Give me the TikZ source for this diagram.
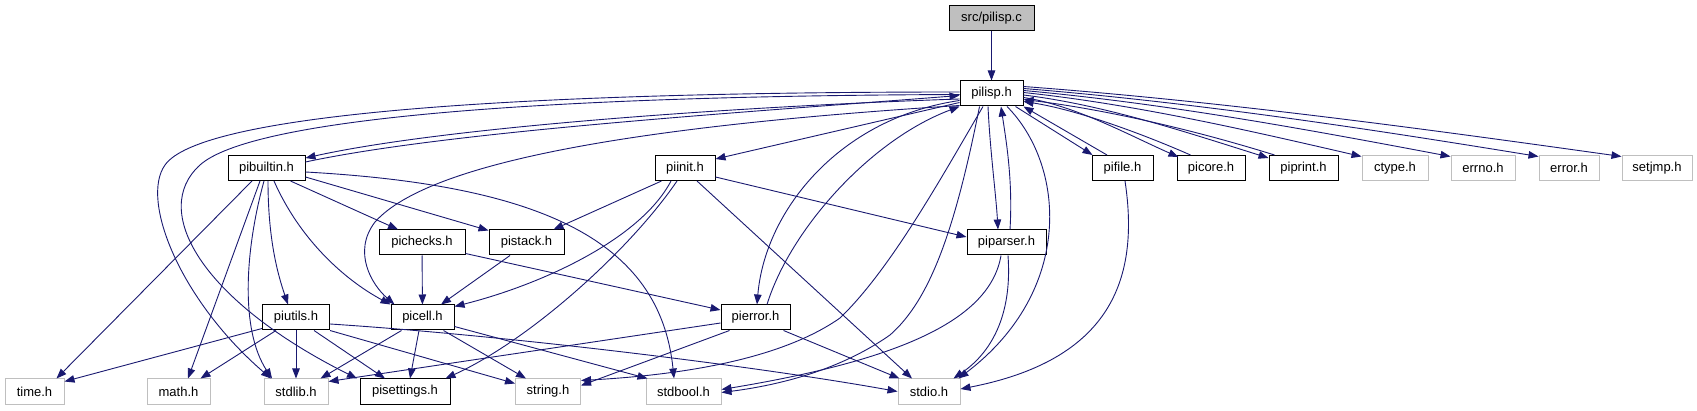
\documentclass[tikz,border=0pt]{standalone}
\usepackage{fontspec}
\setmainfont{Liberation Sans}
\usetikzlibrary{arrows.meta}
\definecolor{edgec}{HTML}{191970}
\definecolor{sysgray}{HTML}{BFBFBF}
\newcommand\dgfont{\fontsize{13}{15}\selectfont}
\tikzset{
  hdr/.style={draw=black, line width=1pt, fill=white, minimum height=25pt, inner sep=0pt, font=\dgfont},
  sys/.style={draw=sysgray, line width=1pt, fill=white, minimum height=25pt, inner sep=0pt, font=\dgfont},
  root/.style={hdr, fill=sysgray},
  e/.style={draw=edgec, line width=0.9pt, -{Triangle[length=10pt,width=7.5pt]}},
}
\begin{document}
\begin{tikzpicture}[x=1pt,y=-1pt]
\useasboundingbox (0,0) rectangle (1697,411);
% nodes
\node[root, minimum width=85pt] (src) at (991.5,18.5) {src/pilisp.c};
\node[hdr, minimum width=63pt] (pilisph) at (991.5,93.5) {pilisp.h};
\node[hdr, minimum width=77pt] (pibuiltin) at (266.5,168) {pibuiltin.h};
\node[hdr, minimum width=60pt] (piinit) at (685,168) {piinit.h};
\node[hdr, minimum width=61pt] (pifile) at (1122.5,168) {pifile.h};
\node[hdr, minimum width=68pt] (picore) at (1211,168) {picore.h};
\node[hdr, minimum width=69pt] (piprint) at (1303.5,168) {piprint.h};
\node[sys, minimum width=66pt] (ctype) at (1395,168) {ctype.h};
\node[sys, minimum width=64pt] (errno) at (1483,168) {errno.h};
\node[sys, minimum width=60pt] (error) at (1569,168) {error.h};
\node[sys, minimum width=70pt] (setjmp) at (1657,168) {setjmp.h};
\node[hdr, minimum width=86pt] (pichecks) at (422,242.5) {pichecks.h};
\node[hdr, minimum width=75pt] (pistack) at (526.5,242.5) {pistack.h};
\node[hdr, minimum width=79pt] (piparser) at (1006.5,242.5) {piparser.h};
\node[hdr, minimum width=67pt] (piutils) at (296,317.5) {piutils.h};
\node[hdr, minimum width=63pt] (picell) at (422.5,317.5) {picell.h};
\node[hdr, minimum width=69pt] (pierror) at (755.5,317.5) {pierror.h};
\node[sys, minimum width=59pt] (time) at (34.5,391.5) {time.h};
\node[sys, minimum width=63pt] (math) at (178.5,391.5) {math.h};
\node[sys, minimum width=64pt] (stdlib) at (296,391.5) {stdlib.h};
\node[hdr, minimum width=90pt] (pisettings) at (405,391.5) {pisettings.h};
\node[sys, minimum width=65pt] (string) at (548,391.5) {string.h};
\node[sys, minimum width=75pt] (stdbool) at (683.5,391.5) {stdbool.h};
\node[sys, minimum width=62pt] (stdio) at (929,391.5) {stdio.h};
% src
\draw[e] (src) -- (pilisph);
% pilisp.h out / back
\draw[e] ([yshift=-5.5pt]pilisph.west) .. controls (750,106) and (450,126) .. ([yshift=-3pt]pibuiltin.north east);
\draw[e] ([yshift=-7pt]pibuiltin.north east) .. controls (450,131) and (750,112) .. ([yshift=-2pt]pilisph.west);
\draw[e] ([yshift=-9pt]pilisph.west) -- ([yshift=-4pt]piinit.north east);
\draw[e] ([yshift=1pt]pilisph.south west) .. controls (650,125) and (430,160) .. (375,222) .. controls (352,252) and (372,285) .. ([xshift=4pt]picell.north west);
\draw[e] ([yshift=1.5pt]pilisph.west) .. controls (500,92) and (200,115) .. (165,165) .. controls (140,200) and (180,300) .. ([xshift=-25pt]stdlib.north);
\draw[e] ([yshift=-1pt]pilisph.west) .. controls (520,96) and (250,120) .. (200,165) .. controls (150,210) and (200,300) .. ([xshift=-48pt]pisettings.north);
\draw[e] ([yshift=-7pt]pilisph.west) .. controls (840,118) and (765,210) .. ([xshift=1.5pt]pierror.north);
\draw[e] ([xshift=11.5pt]pierror.north) .. controls (790,230) and (870,140) .. (pilisph.south west);
\draw[e] ([xshift=-3.5pt]pilisph.south) .. controls (990,150) and (996,195) .. ([xshift=-8.5pt]piparser.north);
\draw[e] ([xshift=3.5pt]piparser.north) .. controls (1013,180) and (1006,140) .. ([xshift=9.5pt]pilisph.south);
\draw[e] ([xshift=-8.5pt]pilisph.south) .. controls (940,180) and (890,270) .. (840,318) .. controls (780,360) and (680,375) .. ([yshift=-2pt]string.north east);
\draw[e] ([xshift=-12pt]pilisph.south) .. controls (955,230) and (930,300) .. (890,335) .. controls (840,370) and (780,385) .. ([yshift=-1pt]stdbool.east);
\draw[e] ([xshift=15.5pt]pilisph.south) .. controls (1065,165) and (1075,290) .. ([xshift=-2pt]stdio.north east);
\draw[e] ([xshift=-8pt]pilisph.south east) -- ([xshift=1pt]pifile.north west);
\draw[e] ([xshift=-15.5pt]pifile.north) -- (pilisph.south east);
\draw[e] ([yshift=-4pt]pilisph.east) .. controls +(52,8) and +(-50,-22) .. ([xshift=2pt,yshift=-2pt]picore.north west);
\draw[e] ([xshift=14pt]picore.north west) .. controls +(-50,-22) and +(52,8) .. ([yshift=-8pt]pilisph.east);
\draw[e] ([yshift=-1.5pt]pilisph.east) .. controls +(82,10) and +(-80,-25) .. ([yshift=-3pt]piprint.north west);
\draw[e] ([xshift=6pt]piprint.north west) .. controls +(-80,-25) and +(82,10) .. ([yshift=-6pt]pilisph.east);
\draw[e] ([yshift=1pt]pilisph.east) .. controls +(113,12) and +(-113,-26) .. ([yshift=-1.5pt]ctype.north west);
\draw[e] ([yshift=3pt]pilisph.east) .. controls +(143,13) and +(-143,-27) .. ([yshift=-1.5pt]errno.north west);
\draw[e] ([yshift=5pt]pilisph.east) .. controls +(172,14) and +(-172,-28) .. ([yshift=-1.5pt]error.north west);
\draw[e] ([yshift=7pt]pilisph.east) .. controls +(200,15) and +(-200,-28) .. ([yshift=-1.5pt]setjmp.north west);
% piparser, pifile
\draw[e] ([xshift=-5.5pt]piparser.south) .. controls (990,320) and (900,360) .. ([yshift=2pt]stdbool.east);
\draw[e] ([xshift=1.5pt]piparser.south) .. controls (1012,310) and (995,350) .. ([xshift=-7pt]stdio.north east);
\draw[e] ([xshift=2.5pt]pifile.south) .. controls (1140,280) and (1110,360) .. ([yshift=2.5pt]stdio.east);
% pibuiltin
\draw[e] ([xshift=-14.5pt]pibuiltin.south) -- ([xshift=-8pt]time.north east);
\draw[e] ([xshift=-6.5pt]pibuiltin.south) -- ([xshift=9.5pt]math.north);
\draw[e] ([xshift=-2.5pt]pibuiltin.south) .. controls (245,250) and (240,330) .. ([xshift=-24pt]stdlib.north);
\draw[e] ([xshift=1.5pt]pibuiltin.south) .. controls (268,240) and (278,275) .. ([xshift=-8pt]piutils.north);
\draw[e] ([xshift=7.5pt]pibuiltin.south) .. controls (300,240) and (345,280) .. (picell.north west);
\draw[e] ([xshift=-15pt]pibuiltin.south east) -- ([xshift=-24pt]pichecks.north);
\draw[e] ([yshift=-9pt]pibuiltin.east) -- ([yshift=-1pt]pistack.north west);
\draw[e] ([yshift=-4pt]pibuiltin.east) .. controls (540,185) and (660,240) .. ([xshift=-9.5pt]stdbool.north);
% piinit
\draw[e] ([xshift=7pt]piinit.south west) -- ([xshift=-11pt]pistack.north east);
\draw[e] ([xshift=-14pt]piinit.south) .. controls (640,240) and (540,285) .. ([yshift=-2pt]picell.north east);
\draw[e] ([xshift=-8pt]piinit.south) .. controls (630,250) and (530,340) .. ([xshift=-5pt]pisettings.north east);
\draw[e] ([xshift=12pt]piinit.south) -- ([xshift=-17pt]stdio.north);
\draw[e] ([yshift=-9pt]piinit.east) -- ([yshift=5.5pt]piparser.west);
% pichecks, pistack
\draw[e] (pichecks) -- (picell);
\draw[e] ([yshift=2pt]pichecks.south east) -- ([yshift=7.5pt]pierror.west);
\draw[e] ([xshift=-16.5pt]pistack.south) -- ([xshift=18.5pt]picell.north);
% piutils
\draw[e] ([yshift=2pt]piutils.south west) -- ([yshift=-3pt]time.north east);
\draw[e] ([xshift=-20pt]piutils.south) -- ([xshift=-10pt]math.north east);
\draw[e] (piutils) -- (stdlib);
\draw[e] ([xshift=18pt]piutils.south) -- ([xshift=-20pt]pisettings.north);
\draw[e] (piutils.south east) -- ([yshift=-5pt]string.north west);
\draw[e] ([yshift=-6.5pt]piutils.east) .. controls (500,335) and (750,365) .. (stdio.west);
% picell
\draw[e] ([xshift=11pt]picell.south west) -- ([xshift=-8pt]stdlib.north east);
\draw[e] ([xshift=-3.5pt]picell.south) -- ([xshift=5pt]pisettings.north);
\draw[e] ([xshift=-11pt]picell.south east) -- ([xshift=-22pt]string.north);
\draw[e] ([yshift=4pt]picell.south east) -- ([xshift=2pt]stdbool.north west);
% pierror
\draw[e] ([yshift=-5.5pt]pierror.west) -- ([yshift=-3pt]stdlib.north east);
\draw[e] ([xshift=9pt]pierror.south west) -- ([yshift=-7pt]string.north east);
\draw[e] ([xshift=-7pt]pierror.south east) -- ([xshift=2pt]stdio.north west);
\end{tikzpicture}
\end{document}
